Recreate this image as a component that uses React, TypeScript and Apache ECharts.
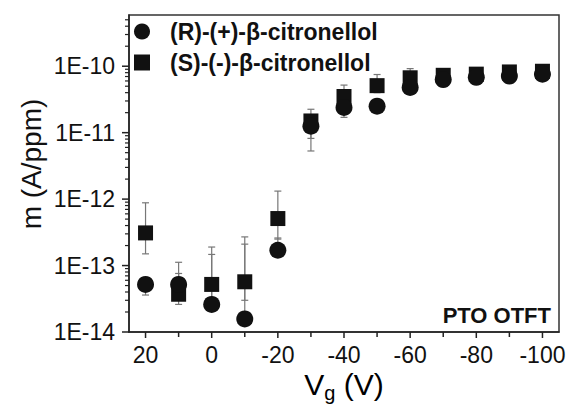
import React, { useEffect, useRef } from "react";
import * as echarts from "echarts";

const vg = [20, 10, 0, -10, -20, -30, -40, -50, -60, -70, -80, -90, -100];
const rName = "(R)-(+)-β-citronellol";
const sName = "(S)-(-)-β-citronellol";
const rValues = [5.2e-14, 5.2e-14, 2.6e-14, 1.57e-14, 1.7e-13, 1.25e-11, 2.4e-11, 2.5e-11, 4.8e-11, 6.3e-11, 6.8e-11, 7.1e-11, 7.6e-11];
const rErrLow = [3.6e-14, 4.2e-14, 2.2e-14, 1.3e-14, 1.4e-13, 5.3e-12, 1.7e-11, 2.2e-11, 4.4e-11, 5.9e-11, 6.4e-11, 6.7e-11, 7.2e-11];
const rErrHigh = [6.5e-14, 7.6e-14, 1.47e-13, 2.1e-13, 2.6e-13, 1.7e-11, 3.0e-11, 2.9e-11, 5.2e-11, 6.7e-11, 7.2e-11, 7.5e-11, 8.0e-11];
const sValues = [3.1e-13, 3.7e-14, 5.2e-14, 5.7e-14, 5.1e-13, 1.5e-11, 3.5e-11, 5.1e-11, 6.7e-11, 7.3e-11, 7.6e-11, 8.2e-11, 8.4e-11];
const sErrLow = [1.5e-13, 2.6e-14, 3.0e-14, 3.0e-14, 2.5e-13, 8.2e-12, 2.2e-11, 4.0e-11, 5.5e-11, 6.6e-11, 7.0e-11, 7.6e-11, 7.9e-11];
const sErrHigh = [8.8e-13, 1.12e-13, 1.9e-13, 2.7e-13, 1.32e-12, 2.25e-11, 5.2e-11, 7.5e-11, 9.2e-11, 8.1e-11, 8.2e-11, 8.8e-11, 9.0e-11];

const xTicks = [20, 10, 0, -10, -20, -30, -40, -50, -60, -70, -80, -90, -100];
const xLabels = [20, 0, -20, -40, -60, -80, -100];
const yLabels = [1e-14, 1e-13, 1e-12, 1e-11, 1e-10];
const yMin = 1e-14;
const yMax = 5.9e-10;
const xMin = -105;
const xMax = 25;

function minorTicks(): number[] {
  const out: number[] = [];
  for (let d = -14; d <= -10; d++) {
    for (let k = 2; k <= 9; k++) {
      const v = k * Math.pow(10, d);
      if (v < yMax) out.push(v);
    }
  }
  return out;
}

const FONT = "Liberation Sans, Arial, sans-serif";
const AXIS_COLOR = "#222";

function errorRender(params: any, api: any) {
  const x = api.value(0);
  const lo = api.value(1);
  const hi = api.value(2);
  const p1 = api.coord([x, lo]);
  const p2 = api.coord([x, hi]);
  const w = 3.5;
  const style = { stroke: "#777", lineWidth: 1.2 };
  return {
    type: "group",
    children: [
      { type: "line", shape: { x1: p1[0], y1: p1[1], x2: p2[0], y2: p2[1] }, style },
      { type: "line", shape: { x1: p1[0] - w, y1: p1[1], x2: p1[0] + w, y2: p1[1] }, style },
      { type: "line", shape: { x1: p2[0] - w, y1: p2[1], x2: p2[0] + w, y2: p2[1] }, style },
    ],
  };
}

export default function App() {
  const ref = useRef<HTMLDivElement>(null);
  useEffect(() => {
    if (!ref.current) return;
    const chart = echarts.init(ref.current, null, { renderer: "svg" });
    const fmtY = (v: number) => "1E" + Math.round(Math.log10(v));
    const textGraphics: any[] = [
      {
        type: "text",
        x: 31,
        y: 164,
        rotation: Math.PI / 2,
        style: {
          text: "m (A/ppm)",
          font: `28px ${FONT}`,
          fill: "#111",
          align: "center",
          verticalAlign: "middle",
        },
      },
      {
        type: "text",
        x: 344,
        y: 384,
        style: {
          text: "{v|V}{g|g}{v| (V)}",
          rich: {
            v: { fontFamily: FONT, fontSize: 30, color: "#111" },
            g: { fontFamily: FONT, fontSize: 20, color: "#111", padding: [18, 0, 0, 0] },
          },
          align: "center",
          verticalAlign: "middle",
        },
      },
      {
        type: "text",
        right: 16,
        top: 304,
        style: {
          text: "PTO OTFT",
          font: `bold 22px ${FONT}`,
          fill: "#111",
        },
      },
    ];
    chart.setOption({
      animation: false,
      backgroundColor: "#fff",
      grid: {
        left: 129,
        right: 8,
        top: 15,
        bottom: 76,
        containLabel: false,
        outerBoundsMode: "none",
        show: true,
        borderColor: "#333",
        borderWidth: 1.5,
        backgroundColor: "transparent",
      },
      legend: {
        orient: "vertical",
        left: 134,
        top: 20,
        padding: 0,
        itemWidth: 16,
        itemHeight: 16,
        itemGap: 8,
        data: [
          { name: rName, icon: "circle" },
          { name: sName, icon: "rect" },
        ],
        itemStyle: { opacity: 1 },
        textStyle: { fontFamily: FONT, fontSize: 23, fontWeight: "bold", color: "#111", padding: [0, 0, 0, 15] },
        selectedMode: false,
      },
      xAxis: {
        type: "value",
        inverse: true,
        min: xMin,
        max: xMax,
        splitLine: { show: false },
        axisLine: { show: true, onZero: false, lineStyle: { color: AXIS_COLOR, width: 1.5 } },
        axisTick: { show: false },
        axisLabel: { customValues: xLabels, margin: 11, fontFamily: FONT, fontSize: 23, color: "#111" },
      },
      yAxis: {
        type: "log",
        min: yMin,
        max: yMax,
        splitLine: { show: false },
        axisLine: { show: true, onZero: false, lineStyle: { color: AXIS_COLOR, width: 1.5 } },
        axisTick: { show: false },
        axisLabel: { customValues: yLabels, formatter: fmtY, margin: 14, fontFamily: FONT, fontSize: 23, color: "#111" },
        minorTick: { show: false },
      },
      graphic: textGraphics,
      series: [
        {
          type: "custom",
          name: "rErr",
          renderItem: errorRender,
          data: vg.map((x, i) => [x, rErrLow[i], rErrHigh[i]]),
          encode: { x: 0, y: [1, 2] },
          z: 1,
        },
        {
          type: "custom",
          name: "sErr",
          renderItem: errorRender,
          data: vg.map((x, i) => [x, sErrLow[i], sErrHigh[i]]),
          encode: { x: 0, y: [1, 2] },
          z: 1,
        },
        {
          type: "scatter",
          name: sName,
          symbol: "rect",
          symbolSize: 15,
          itemStyle: { color: "#111", opacity: 1 },
          data: vg.map((x, i) => [x, sValues[i]]),
          z: 3,
        },
        {
          type: "scatter",
          name: rName,
          symbol: "circle",
          symbolSize: 17,
          itemStyle: { color: "#111", opacity: 1 },
          data: vg.map((x, i) => [x, rValues[i]]),
          z: 4,
        },
      ],
    });

    // Axis ticks placed through the chart's own scales
    const axisX = chart.convertToPixel({ xAxisIndex: 0 }, xMax) as number;
    const axisY = chart.convertToPixel({ yAxisIndex: 0 }, yMin) as number;
    const tickStyle = (w: number) => ({ stroke: AXIS_COLOR, lineWidth: w });
    const ticks: any[] = [];
    xTicks.forEach((v) => {
      const px = chart.convertToPixel({ xAxisIndex: 0 }, v) as number;
      const len = xLabels.indexOf(v) >= 0 ? 6 : 5;
      ticks.push({
        type: "line",
        silent: true,
        z: 50,
        shape: { x1: px, y1: axisY, x2: px, y2: axisY + len },
        style: tickStyle(1.5),
      });
    });
    yLabels.forEach((v) => {
      const py = chart.convertToPixel({ yAxisIndex: 0 }, v) as number;
      ticks.push({
        type: "line",
        silent: true,
        z: 50,
        shape: { x1: axisX - 7, y1: py, x2: axisX, y2: py },
        style: tickStyle(1.5),
      });
    });
    minorTicks().forEach((v) => {
      const py = chart.convertToPixel({ yAxisIndex: 0 }, v) as number;
      ticks.push({
        type: "line",
        silent: true,
        z: 50,
        shape: { x1: axisX - 4, y1: py, x2: axisX, y2: py },
        style: tickStyle(1.2),
      });
    });
    chart.setOption({ graphic: [...textGraphics, ...ticks] });

    return () => chart.dispose();
  }, []);
  return <div ref={ref} style={{ width: 567, height: 408, position: "absolute", left: 0, top: 0 }} />;
}
